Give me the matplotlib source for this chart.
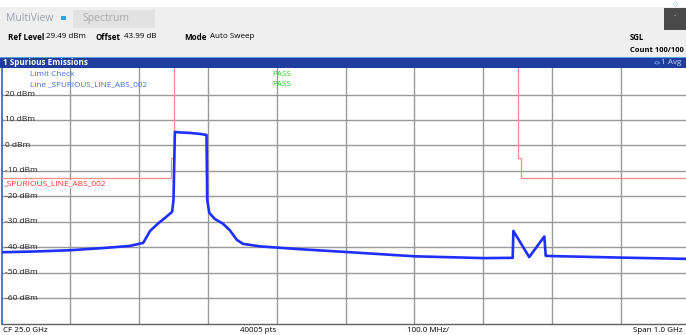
import matplotlib
matplotlib.use("Agg")
import matplotlib.pyplot as plt
from matplotlib.patches import Rectangle, Circle

plt.rcParams["font.family"] = ["Open Sans", "DejaVu Sans"]

W, H = 686, 335
BLUE_BAR, TRACE, LIMIT, GRID = "#1e3d9c", "#1f2fff", "#ff8e8e", "#999999"

# trace breakpoints (GHz, dBm)
FREQ = [24.500, 24.549, 24.600, 24.650, 24.687, 24.706, 24.716, 24.728, 24.739, 24.748,
        24.750, 24.752, 24.759, 24.774, 24.789, 24.798, 24.799, 24.802, 24.810, 24.822,
        24.832, 24.842, 24.851, 24.876, 24.934, 25.001, 25.101, 25.201, 25.243, 25.244,
        25.267, 25.289, 25.291, 25.300, 25.400, 25.495, 25.500]
LEVEL = [-42.0, -41.7, -41.2, -40.3, -39.5, -38.3, -33.6, -30.6, -28.2, -26.1,
         -21.4, 5.3, 5.1, 4.9, 4.5, 4.1, -21.4, -26.5, -28.9, -30.8,
         -33.4, -37.1, -38.7, -39.7, -40.8, -41.9, -43.6, -44.3, -44.2, -33.6,
         -43.9, -35.8, -43.4, -43.5, -44.1, -44.6, -44.6]

# limit line _SPURIOUS_LINE_ABS_002 (steps), 40 dBm = off screen
LIMIT_F = [24.500, 24.746, 24.750, 25.251, 25.255, 25.500]
LIMIT_DB = [-13, -5, 40, -5, -13, -13]

Y_GRID = [20, 10, 0, -10, -20, -30, -40, -50, -60]
X_GRID = [24.6, 24.7, 24.8, 24.9, 25.0, 25.1, 25.2, 25.3, 25.4]


def fx(x):
    return x / W


def fy(y):
    return 1 - y / H


fig = plt.figure(figsize=(W / 100, H / 100), dpi=100)

# header strip
fig.patches.append(Rectangle((0, fy(57)), 1, fy(7) - fy(57), transform=fig.transFigure,
                             facecolor="#efefef", edgecolor="none"))
fig.patches.append(Rectangle((fx(73), fy(28)), fx(82), fy(10) - fy(28), transform=fig.transFigure,
                             facecolor="#e2e2e2", edgecolor="none"))
fig.patches.append(Rectangle((fx(664), fy(30)), fx(22), fy(8) - fy(30), transform=fig.transFigure,
                             facecolor="#4a4a4a", edgecolor="none"))
fig.patches.append(Rectangle((fx(61), fy(19.5)), fx(5), fy(16) - fy(19.5), transform=fig.transFigure,
                             facecolor="#3aa0e0", edgecolor="none"))
fig.text(fx(675), fy(17), "·", color="white", fontsize=6, ha="center", va="center")
fig.text(fx(676), fy(4), "◇", color="#5aa8e8", fontsize=5, ha="center", va="center",
         family=["DejaVu Sans"])

fig.text(fx(6), fy(18.5), "MultiView", color="#9aa0a8", fontsize=7.5, va="center")
fig.text(fx(82), fy(18.5), "Spectrum", color="#a8a8a8", fontsize=7.5, va="center")

hy = fy(37)
fig.text(fx(8), hy, "Ref Level", fontsize=5.8, weight="bold", va="center")
fig.text(fx(46), hy, "29.49 dBm", fontsize=5.8, va="center")
fig.text(fx(96), hy, "Offset", fontsize=5.8, weight="bold", va="center")
fig.text(fx(124), hy, "43.99 dB", fontsize=5.8, va="center")
fig.text(fx(184), hy, "Mode", fontsize=5.8, weight="bold", va="center")
fig.text(fx(210), hy, "Auto Sweep", fontsize=5.8, va="center")
fig.text(fx(630), hy, "SGL", fontsize=5.6, weight="bold", va="center")
fig.text(fx(630), fy(50), "Count 100/100", fontsize=5.4, weight="bold", va="center")

# title bar
fig.patches.append(Rectangle((0, fy(68.3)), 1, fy(57) - fy(68.3), transform=fig.transFigure,
                             facecolor=BLUE_BAR, edgecolor="none"))
fig.patches.append(Rectangle((0, fy(57.5)), 1, fy(56.5) - fy(57.5), transform=fig.transFigure,
                             facecolor="#5aa0e8", edgecolor="none"))
fig.text(fx(3), fy(62.8), "1 Spurious Emissions", color="white", fontsize=5.9, weight="bold", va="center")
fig.patches.append(Circle((fx(657), fy(62.8)), fx(2.3), transform=fig.transFigure,
                          facecolor="#0a1a70", edgecolor="#7fb0ff", lw=0.6))
fig.text(fx(661), fy(62.8), "1 Avg", color="#c8d8f0", fontsize=5.9, va="center")

# spectrum display
ax = fig.add_axes([fx(1.5), fy(324), fx(688), fy(68.3) - fy(324)])
ax.set_xlim(24.5, 25.5)
ax.set_ylim(-70.2, 30.3)
ax.set_xticks(X_GRID)
ax.set_yticks(Y_GRID)
ax.tick_params(length=0, labelbottom=False, labelleft=False)
ax.grid(True, color=GRID, lw=1.0)
for s in ("top", "right"):
    ax.spines[s].set_visible(False)
ax.spines["left"].set_color("#2f5fd0")
ax.spines["left"].set_linewidth(1.2)
ax.spines["bottom"].set_color("#606060")
ax.spines["bottom"].set_linewidth(1.0)

ax.plot(LIMIT_F, LIMIT_DB, drawstyle="steps-post", color=LIMIT, lw=0.9, zorder=3)
ax.plot(FREQ, LEVEL, color=TRACE, lw=1.9, zorder=4)

yt = ax.get_yaxis_transform()
for v in Y_GRID:
    ax.text(3.5 / 688, v, f"{v} dBm", transform=yt, fontsize=6, va="center", color="#222222")

at = ax.transAxes
ax.text(fx(28) / fx(688), 1 - (74 - 68.3) / 255.7, "Limit Check", transform=at,
        fontsize=5.9, color="#3f6fe0", va="center")
ax.text(fx(28) / fx(688), 1 - (85 - 68.3) / 255.7, "Line _SPURIOUS_LINE_ABS_002", transform=at,
        fontsize=5.9, color="#3f6fe0", va="center")
ax.text(fx(271) / fx(688), 1 - (74 - 68.3) / 255.7, "PASS", transform=at,
        fontsize=5.9, color="#2ed02e", va="center")
ax.text(fx(271) / fx(688), 1 - (85 - 68.3) / 255.7, "PASS", transform=at,
        fontsize=5.9, color="#2ed02e", va="center")
ax.text(fx(2) / fx(688), 1 - (184 - 68.3) / 255.7, "_SPURIOUS_LINE_ABS_002", transform=at,
        fontsize=6, color="#ff3030", va="center", zorder=5,
        bbox=dict(facecolor="white", edgecolor="none", pad=0.6))

by = fy(331)
fig.text(fx(3), by, "CF 25.0 GHz", fontsize=5.8, va="center")
fig.text(fx(240), by, "40005 pts", fontsize=5.8, va="center")
fig.text(fx(407), by, "100.0 MHz/", fontsize=5.8, va="center")
fig.text(fx(633), by, "Span 1.0 GHz", fontsize=5.8, va="center")

fig.savefig("out.png", dpi=100)
